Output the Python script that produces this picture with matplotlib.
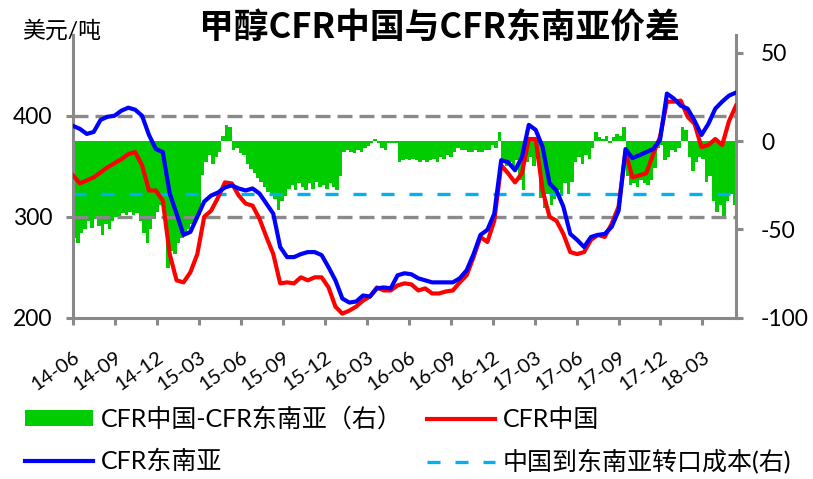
import numpy as np
import matplotlib
matplotlib.use("Agg")
import matplotlib.pyplot as plt
from matplotlib.lines import Line2D
from matplotlib.patches import Patch

plt.rcParams['font.family'] = ['Lato', 'Noto Sans CJK SC', 'DejaVu Sans']
plt.rcParams['axes.unicode_minus'] = False

# ---------------- data ----------------
tick_labels = ['14-06', '14-09', '14-12', '15-03', '15-06', '15-09', '15-12', '16-03',
               '16-06', '16-09', '16-12', '17-03', '17-06', '17-09', '17-12', '18-03']

# CFR 东南亚 (USD/t), semi-monthly from 2014-06
cfr_sea = [390, 387, 382, 384, 396, 399, 400, 405, 408, 406, 400, 381, 367, 364, 323, 303,
           282, 285, 300, 315, 321, 324, 329, 331, 328, 326, 328, 323, 313, 303, 270, 260,
           260, 263, 265, 265, 262, 250, 237, 219, 215, 216, 222, 221, 229, 230, 229, 242,
           244, 243, 239, 237, 235, 235, 235, 235, 239, 247, 263, 282, 287, 303, 356, 354,
           346, 359, 391, 386, 369, 333, 326, 310, 283, 277, 270, 280, 282, 283, 290, 306,
           367, 358, 361, 364, 367, 376, 422, 417, 410, 407, 395, 381, 392, 407, 414, 420,
           423]

# CFR 中国 (USD/t), semi-monthly from 2014-06
cfr_china = [341, 333, 336, 339, 344, 349, 353, 357, 362, 364, 351, 326, 326, 316, 263, 237,
             235, 245, 263, 300, 306, 319, 334, 333, 321, 313, 311, 298, 280, 263, 234, 235,
             234, 240, 237, 240, 240, 230, 211, 204, 207, 211, 217, 221, 230, 227, 227, 232,
             234, 233, 227, 229, 224, 224, 226, 227, 235, 242, 260, 280, 275, 296, 351, 343,
             334, 343, 377, 377, 326, 300, 296, 283, 265, 263, 265, 277, 282, 280, 293, 310,
             364, 339, 341, 343, 362, 379, 414, 414, 415, 399, 392, 369, 371, 377, 371, 395,
             410]

# CFR中国 - CFR东南亚 (right axis), weekly
spread = [-55, -58, -52, -50, -45, -49, -44, -48, -53, -47, -50, -45, -43, -44, -41, -42,
          -40, -42, -41, -45, -52, -58, -50, -44, -40, -36, -38, -72, -62, -64, -58, -55,
          -53, -50, -47, -45, -42, -19, -12, -8, -13, -9, -6, 3, 9, 8, -5, -4,
          -7, -8, -13, -16, -18, -21, -23, -26, -29, -30, -33, -39, -34, -31, -27, -25,
          -28, -24, -26, -28, -24, -27, -23, -26, -25, -27, -24, -26, -28, -20, -6, -5,
          -6, -7, -5, -6, -4, -3, -1, 1, -1, -4, -5, -1, -1, -1, -12, -11,
          -10, -11, -10, -11, -12, -11, -12, -11, -10, -12, -9, -10, -8, -9, -6, -4,
          -5, -5, -6, -6, -5, -6, -6, -5, -5, -2, -4, 5, -12, -14, -12, -16,
          -11, -22, -28, -12, -9, -14, -10, -32, -38, -30, -36, -33, -28, -31, -24, -30,
          -23, -12, -9, -13, -8, -10, -4, 5, 2, 1, 3, -1, 2, 4, 3, 8,
          -20, -25, -24, -26, -22, -24, -25, -22, -15, -4, -2, -11, -9, -5, -6, -4,
          8, 6, -9, -17, -12, -9, -10, -23, -20, -34, -40, -36, -44, -34, -30, -36,
          -28]

transfer_cost = -30  # 中国到东南亚转口成本 (right axis)

# ---------------- layout ----------------
span = 47.4  # months shown
x_line = np.linspace(0, span, len(cfr_sea))
x_bar = np.linspace(0, span, len(spread))
bar_w = x_bar[1] - x_bar[0]

GRAY = '#898989'
GREEN = '#00CC00'
RED = '#FF0000'
BLUE = '#0000FF'
CYAN = '#00B0F0'

fig = plt.figure(figsize=(8.13, 4.79), dpi=100)
ax = fig.add_axes([73 / 813, 1 - 317.7 / 479, 663 / 813, 282.7 / 479])
ax2 = ax.twinx()
ax2.set_zorder(0)
ax.set_zorder(1)
ax.patch.set_visible(False)

# right axis: spread bars + transfer cost
ax2.bar(x_bar, spread, width=bar_w, align='edge', color=GREEN, linewidth=0)
ax2.axhline(transfer_cost, color=CYAN, lw=2.4, dashes=(3.9, 4.5))
ax2.set_ylim(-100, 60)
ax2.set_yticks([-100, -50, 0, 50])

# left axis: reference lines + prices
for yv in (300, 400):
    ax.axhline(yv, color=GRAY, lw=2.4, dashes=(4.5, 2.1), zorder=1)
ax.plot(x_line, cfr_china, color=RED, lw=3.0, zorder=3)
ax.plot(x_line, cfr_sea, color=BLUE, lw=3.0, zorder=4)
ax.set_ylim(200, 480)
ax.set_yticks([200, 300, 400])
ax.set_xlim(0, span)
ax.set_xticks(np.arange(len(tick_labels)) * 3)
ax.set_xticklabels(tick_labels, rotation=35, ha='right', va='top',
                   rotation_mode='anchor')

for a in (ax, ax2):
    for s in a.spines.values():
        s.set_color(GRAY)
        s.set_linewidth(2.2)
    a.spines['top'].set_visible(False)
ax.spines['right'].set_visible(False)
ax2.spines['left'].set_visible(False)
ax2.spines['bottom'].set_visible(False)

ax.tick_params(axis='y', direction='out', length=5, width=2.2, color=GRAY,
               labelsize=16.5, pad=10)
ax.tick_params(axis='x', direction='out', length=5, width=2.2, color=GRAY,
               labelsize=14.5, pad=17)
ax2.tick_params(axis='y', direction='out', length=5, width=2.2, color=GRAY,
                labelsize=16.5, pad=13)

# titles
fig.text(0.541, 1 - 28 / 479, '甲醇CFR中国与CFR东南亚价差', ha='center', va='center',
         fontsize=25, fontweight='bold', family=['Noto Sans CJK SC', 'DejaVu Sans'])
fig.text(22 / 813, 1 - 31 / 479, '美元/吨', ha='left', va='center', fontsize=16.5,
         family=['Lato', 'Noto Sans CJK SC'])

# legend
handles = [Patch(facecolor=GREEN, edgecolor='none'),
           Line2D([], [], color=BLUE, lw=3.0),
           Line2D([], [], color=RED, lw=3.0),
           Line2D([], [], color=CYAN, lw=2.4, dashes=(3.9, 4.5))]
labels = ['CFR中国-CFR东南亚（右）', 'CFR东南亚', 'CFR中国', '中国到东南亚转口成本(右)']
fig.legend(handles, labels, ncol=2, loc='upper left',
           bbox_to_anchor=(25 / 813, 1 - 407 / 479), frameon=False,
           fontsize=18, handlelength=2.7, handleheight=0.55, handletextpad=0.32,
           columnspacing=1.0, labelspacing=0.75, borderaxespad=0, borderpad=0)

fig.savefig('out.png', dpi=100)
